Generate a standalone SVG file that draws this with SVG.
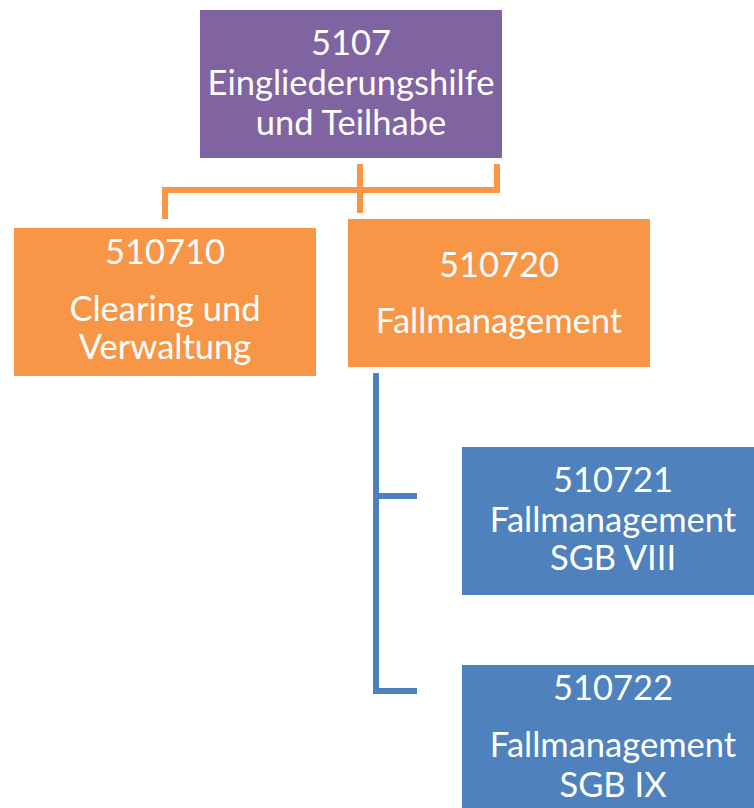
<svg xmlns="http://www.w3.org/2000/svg" width="754" height="808" viewBox="0 0 754 808">
  <style>
    .label { font-family: Lato, "Open Sans", "Liberation Sans", sans-serif; font-size: 34.5px; fill: #ffffff; text-anchor: middle; }
    .purple { fill: #8064A2; }
    .orange { fill: #F79646; }
    .blue { fill: #4F81BD; }
    .link-o { stroke: #F79646; stroke-width: 6; fill: none; }
    .link-b { stroke: #4F81BD; stroke-width: 6; fill: none; }
  </style>
  <rect width="754" height="808" fill="#ffffff"/>
  <g id="connectors">
    <path class="link-o" d="M165 219 V190 H497 V164"/>
    <path class="link-o" d="M360 164 V213"/>
    <path class="link-b" d="M376 373 V691 H417"/>
    <path class="link-b" d="M376 496 H417"/>
  </g>
  <g id="n5107">
    <rect class="purple" x="200" y="10" width="302" height="148"/>
    <text class="label" x="351" y="55">5107</text>
    <text class="label" x="351" y="95">Eingliederungshilfe</text>
    <text class="label" x="351" y="135">und Teilhabe</text>
  </g>
  <g id="n510710">
    <rect class="orange" x="14" y="228" width="302" height="148"/>
    <text class="label" x="165" y="264">510710</text>
    <text class="label" x="165" y="321">Clearing und</text>
    <text class="label" x="165" y="359">Verwaltung</text>
  </g>
  <g id="n510720">
    <rect class="orange" x="348" y="219" width="302" height="148"/>
    <text class="label" x="499" y="277">510720</text>
    <text class="label" x="499" y="333">Fallmanagement</text>
  </g>
  <g id="n510721">
    <rect class="blue" x="462" y="447" width="292" height="148"/>
    <text class="label" x="613" y="492">510721</text>
    <text class="label" x="613" y="532">Fallmanagement</text>
    <text class="label" x="613" y="570">SGB VIII</text>
  </g>
  <g id="n510722">
    <rect class="blue" x="462" y="665" width="292" height="148"/>
    <text class="label" x="613" y="700">510722</text>
    <text class="label" x="613" y="757">Fallmanagement</text>
    <text class="label" x="613" y="797">SGB IX</text>
  </g>
</svg>
